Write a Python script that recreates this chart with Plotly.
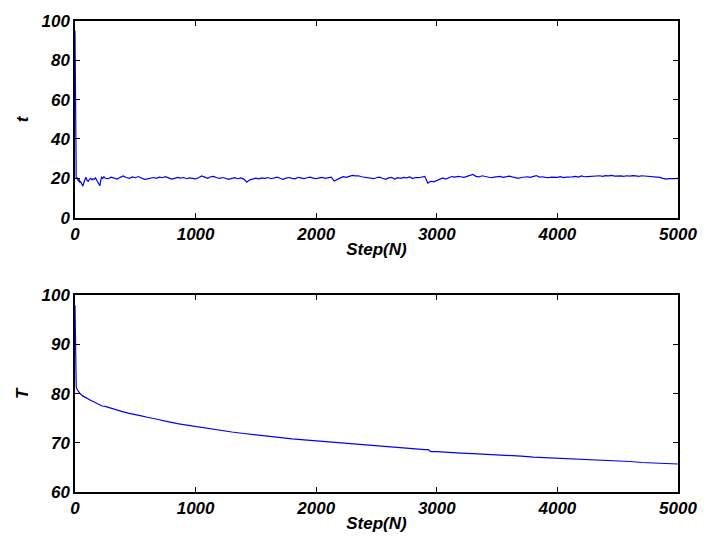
import plotly.graph_objects as go

# ---- data: top panel (t) ----
t_steps_early = [0, 2, 4, 6, 8, 10, 15, 20, 25, 30, 35, 40, 45, 50, 55, 60, 66, 72, 80, 90,
                 100, 110, 120, 130, 140, 150, 160, 170, 180, 190, 200, 206, 212, 220, 230, 240, 250]
t_vals_early = [95, 80, 55, 35, 24, 20.5, 19.8, 20.0, 19.0, 18.5, 19.5, 17.8, 18.5, 18.0, 17.2, 16.5, 16.0, 17.5, 19.5, 20.5,
                19.0, 18.5, 19.5, 20.0, 19.2, 19.8, 19.5, 20.2, 19.0, 18.0, 17.0, 16.2, 18.5, 20.5, 20.0, 20.8, 20.0]
t_steps_late = list(range(275, 5001, 25))
t_vals_late = [
    19.8, 20.6, 20.2, 19.6, 20.5, 21.2, 20.4, 20.0, 20.7, 20.3,
    20.9, 20.1, 19.5, 19.7, 20.2, 20.4, 20.0, 20.6, 20.3, 20.8,
    20.2, 19.6, 20.0, 20.5, 20.1, 20.4, 19.8, 20.2, 20.0, 19.7,
    20.3, 21.2, 20.6, 20.0, 20.8, 21.0, 20.3, 20.0, 20.4, 19.8,
    19.5, 20.0, 20.3, 19.8, 20.2, 19.6, 18.0, 19.2, 19.8, 20.1,
    19.7, 20.2, 20.0, 20.4, 19.8, 20.3, 20.6, 20.0, 19.5, 20.1,
    20.4, 20.0, 19.7, 20.5, 20.2, 19.9, 20.3, 20.6, 20.1, 19.8,
    20.2, 20.5, 20.0, 20.3, 20.6, 18.6, 19.6, 20.2, 20.8, 20.5,
    21.0, 21.5, 21.2, 21.3, 20.8, 20.6, 20.2, 20.0, 19.8, 20.3,
    20.6, 20.0, 19.5, 20.2, 20.5, 19.6, 20.3, 20.0, 20.5, 20.2,
    20.7, 19.9, 20.4, 20.3, 20.8, 21.0, 17.6, 18.5, 18.2, 19.0,
    19.5, 20.2, 19.6, 20.4, 20.9, 20.6, 21.0, 20.8, 20.5, 21.0,
    21.5, 22.0, 21.0, 20.7, 21.3, 21.0, 20.5, 20.3, 20.6, 20.8,
    21.0, 20.5, 20.8, 21.1, 20.7, 20.3, 20.0, 20.4, 20.6, 20.8,
    20.5, 20.9, 21.4, 20.6, 20.8, 20.5, 20.3, 20.6, 20.4, 20.5,
    20.8, 20.4, 20.6, 20.5, 20.7, 21.0, 20.6, 21.2, 20.8, 20.9,
    21.0, 21.2, 21.0, 21.3, 21.0, 21.4, 21.2, 21.5, 21.1, 21.3,
    21.2, 21.0, 21.3, 21.1, 21.4, 21.2, 21.0, 21.3, 21.2, 21.0,
    21.1, 21.0, 20.8, 20.5, 20.0, 19.6, 19.8, 19.7, 19.8, 20.0,
]
t_steps = t_steps_early + t_steps_late
t_vals = t_vals_early + t_vals_late

# ---- data: bottom panel (T) ----
T_steps = [0, 2, 4, 6, 8, 10, 15, 20, 30, 40, 50, 60, 75, 100, 125, 150, 175, 200, 225, 250,
           300, 350, 400, 450, 500, 550, 600, 650, 700, 750, 800, 850, 900, 950, 1000,
           1100, 1200, 1300, 1400, 1500, 1600, 1700, 1800, 1900, 2000, 2100, 2200, 2300, 2400,
           2500, 2600, 2700, 2800, 2900, 2930, 2950, 3000, 3100, 3200, 3300, 3400, 3500, 3600,
           3700, 3800, 3900, 4000, 4100, 4200, 4300, 4400, 4500, 4600, 4700, 4800, 4900, 5000]
T_vals = [98, 94, 89, 85, 82.5, 81.5, 81.0, 80.7, 80.4, 80.1, 79.8, 79.6, 79.4, 79.0, 78.7, 78.4, 78.1, 77.8, 77.5, 77.4,
          77.0, 76.7, 76.3, 76.0, 75.8, 75.5, 75.2, 75.0, 74.7, 74.4, 74.1, 73.9, 73.7, 73.5, 73.3,
          72.9, 72.5, 72.2, 71.9, 71.6, 71.4, 71.1, 70.8, 70.6, 70.4, 70.2, 69.9, 69.7, 69.5,
          69.3, 69.1, 68.9, 68.7, 68.6, 68.6, 68.2, 68.2, 68.0, 67.9, 67.8, 67.7, 67.6, 67.4,
          67.3, 67.1, 67.0, 66.9, 66.8, 66.6, 66.5, 66.4, 66.3, 66.2, 66.0, 65.9, 65.8, 65.7]

x_ticks = [0, 1000, 2000, 3000, 4000, 5000]
t_ticks = [0, 20, 40, 60, 80, 100]
T_ticks = [60, 70, 80, 90, 100]

font_bi = dict(family="Liberation Sans, Arial, sans-serif", size=17, color="black",
               weight="bold", style="italic")

fig = go.Figure()
fig.add_trace(go.Scatter(x=t_steps, y=t_vals, mode="lines",
                         line=dict(color="rgb(0,0,255)", width=1.2),
                         xaxis="x", yaxis="y", showlegend=False))
fig.add_trace(go.Scatter(x=T_steps, y=T_vals, mode="lines",
                         line=dict(color="rgb(0,0,255)", width=1.2),
                         xaxis="x2", yaxis="y2", showlegend=False))

axis_common = dict(showline=True, linecolor="black", linewidth=1.5, mirror="ticks",
                   ticks="inside", ticklen=5, tickwidth=1, tickcolor="black",
                   showgrid=False, zeroline=False, tickfont=font_bi)

fig.update_layout(
    width=709, height=552,
    margin=dict(l=75, r=27, t=13, b=60),
    paper_bgcolor="white", plot_bgcolor="white",
    xaxis=dict(domain=[0, 1], range=[0, 5000], tickvals=x_ticks, anchor="y",
               title=dict(text="Step(N)", font=font_bi, standoff=0), **axis_common),
    yaxis=dict(domain=[0.5825, 1], range=[0, 100], tickvals=t_ticks, anchor="x",
               title=dict(text="t", font=font_bi, standoff=9), **axis_common),
    xaxis2=dict(domain=[0, 1], range=[0, 5000], tickvals=x_ticks, anchor="y2",
                title=dict(text="Step(N)", font=font_bi, standoff=0), **axis_common),
    yaxis2=dict(domain=[0, 0.4175], range=[60, 100], tickvals=T_ticks, anchor="x2",
                title=dict(text="T", font=font_bi, standoff=9), **axis_common),
)

fig.write_html("out.html")
